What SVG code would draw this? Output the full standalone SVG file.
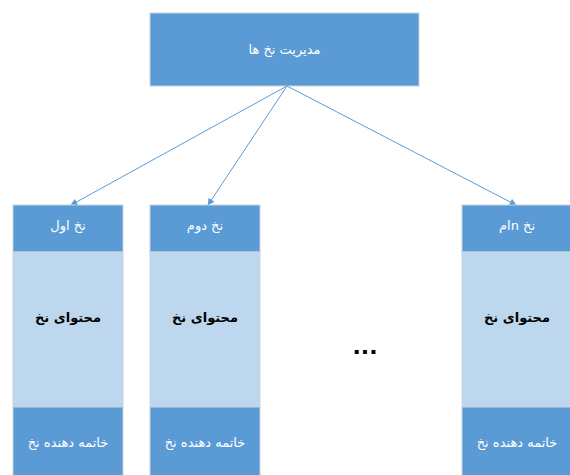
<svg xmlns="http://www.w3.org/2000/svg" width="570" height="475" viewBox="0 0 570 475">
  <style>
    .dark { fill: #5b9bd5; stroke: #c8d4e0; stroke-width: 1; }
    .light { fill: #bdd7ee; stroke: #c8d4e0; stroke-width: 1; }
    .wt { fill: #ffffff; font-family: "DejaVu Sans", sans-serif; font-size: 13px; text-anchor: middle; }
    .bt { fill: #000000; font-family: "DejaVu Sans", sans-serif; font-size: 13px; font-weight: bold; text-anchor: middle; }
    .conn { stroke: #5b9bd5; stroke-width: 1; fill: none; marker-end: url(#arrow); }
  </style>
  <defs>
    <marker id="arrow" viewBox="0 0 10 10" refX="9" refY="5" markerWidth="8" markerHeight="7" orient="auto" markerUnits="userSpaceOnUse">
      <path d="M0,0 L10,5 L0,10 z" fill="#5b9bd5"/>
    </marker>
  </defs>

  <g id="manager">
    <rect class="dark" x="150" y="13" width="269" height="73"/>
    <text class="wt" x="284.5" y="54" direction="rtl">مدیریت نخ ها</text>
  </g>

  <g id="connectors">
    <line class="conn" x1="287" y1="86" x2="71" y2="205"/>
    <line class="conn" x1="287" y1="86" x2="208" y2="205"/>
    <line class="conn" x1="287" y1="86" x2="516" y2="205"/>
  </g>

  <g id="thread1">
    <rect class="dark" x="13" y="205" width="110" height="47"/>
    <rect class="light" x="13" y="252" width="110" height="155"/>
    <rect class="dark" x="13" y="407" width="110" height="70"/>
    <text class="wt" x="68" y="230" direction="rtl">نخ اول</text>
    <text class="bt" x="68" y="322" direction="rtl">محتوای نخ</text>
    <text class="wt" x="68" y="447" direction="rtl">خاتمه دهنده نخ</text>
  </g>

  <g id="thread2">
    <rect class="dark" x="150" y="205" width="110" height="47"/>
    <rect class="light" x="150" y="252" width="110" height="155"/>
    <rect class="dark" x="150" y="407" width="110" height="70"/>
    <text class="wt" x="205" y="230" direction="rtl">نخ دوم</text>
    <text class="bt" x="205" y="322" direction="rtl">محتوای نخ</text>
    <text class="wt" x="205" y="447" direction="rtl">خاتمه دهنده نخ</text>
  </g>

  <g id="threadN">
    <rect class="dark" x="462" y="205" width="110" height="47"/>
    <rect class="light" x="462" y="252" width="110" height="155"/>
    <rect class="dark" x="462" y="407" width="110" height="70"/>
    <text class="wt" x="517" y="230" direction="rtl">نخ nام</text>
    <text class="bt" x="517" y="322" direction="rtl">محتوای نخ</text>
    <text class="wt" x="517" y="447" direction="rtl">خاتمه دهنده نخ</text>
  </g>

  <text class="bt" x="365" y="354" style="font-size:22px">...</text>
</svg>
